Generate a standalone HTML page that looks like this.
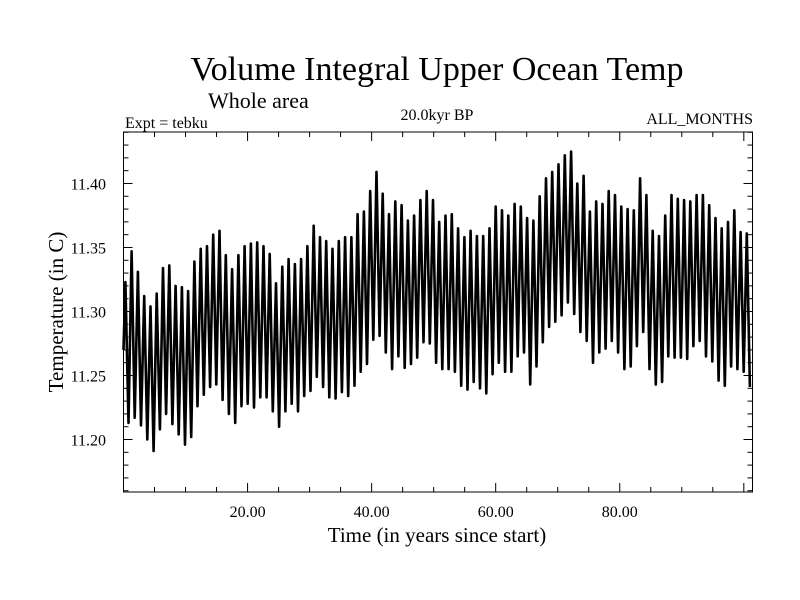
<!DOCTYPE html>
<html><head><meta charset="utf-8"><style>
html,body{margin:0;padding:0;background:#fff;}
svg{display:block;font-family:"Liberation Serif",serif;}
</style></head><body>
<svg id="chart" width="800" height="600" viewBox="0 0 800 600">
<rect width="800" height="600" fill="#fff"/>
<text x="437" y="80" font-size="34" text-anchor="middle">Volume Integral Upper Ocean Temp</text>
<text x="208" y="108" font-size="22">Whole area</text>
<text x="125" y="128" font-size="16">Expt = tebku</text>
<text x="437" y="120" font-size="16" text-anchor="middle">20.0kyr BP</text>
<text x="753" y="124" font-size="16" text-anchor="end">ALL_MONTHS</text>
<text x="437" y="542" font-size="21" text-anchor="middle">Time (in years since start)</text>
<text transform="translate(63,312) rotate(-90)" font-size="21" text-anchor="middle">Temperature (in C)</text>
<g id="axes"></g>
<path id="series" fill="none" stroke="#000" stroke-width="2.6" stroke-linejoin="round"/>
<rect x="123.5" y="132" width="629" height="360" fill="none" stroke="#000" stroke-width="1"/>
</svg>
<script>
const peaks = [11.323,11.347,11.331,11.312,11.304,11.314,11.334,11.336,11.320,11.319,11.316,11.339,11.349,11.351,11.360,11.363,11.344,11.333,11.344,11.351,11.353,11.354,11.351,11.345,11.322,11.335,11.341,
11.337,11.341,11.351,11.367,11.358,11.355,11.349,11.355,11.358,11.358,11.376,11.378,11.394,11.409,11.392,11.376,11.386,11.383,11.371,11.375,11.387,11.394,11.387,11.370,11.375,
11.376,11.365,11.358,11.363,11.359,11.359,11.365,11.382,11.379,11.375,11.384,11.382,11.373,11.371,11.390,11.404,11.409,11.415,11.422,11.425,11.400,11.406,11.378,11.386,11.384,11.394,
11.391,11.382,11.380,11.379,11.404,11.391,11.363,11.359,11.375,11.391,11.388,11.387,11.386,11.391,11.391,11.383,11.373,11.365,11.370,11.379,11.362,11.361];
const troughs = [11.213,11.217,11.211,11.200,11.191,11.208,11.220,11.212,11.204,11.196,11.202,11.226,11.235,11.241,11.243,11.231,11.220,11.213,11.226,11.228,11.225,11.233,11.233,11.222,11.210,11.222,
11.228,11.222,11.234,11.238,11.249,11.241,11.233,11.232,11.237,11.234,11.242,11.253,11.259,11.278,11.281,11.268,11.255,11.265,11.256,11.259,11.264,11.276,11.275,11.260,11.255,11.255,
11.253,11.242,11.239,11.245,11.240,11.236,11.251,11.260,11.253,11.253,11.265,11.268,11.243,11.257,11.276,11.288,11.292,11.297,11.307,11.298,11.284,11.277,11.260,11.268,11.271,
11.277,11.268,11.255,11.257,11.273,11.284,11.255,11.243,11.245,11.265,11.264,11.264,11.263,11.273,11.277,11.265,11.261,11.246,11.242,11.257,11.255,11.253,11.241];
const xTicks = [20,40,60,80];
const xTickLabels = ["20.00","40.00","60.00","80.00"];
const yTicks = [11.20,11.25,11.30,11.35,11.40];
const yTickLabels = ["11.20","11.25","11.30","11.35","11.40"];

const X0=123.5, X1=752.5, Y0=132, Y1=492;
const xMin=0, xMax=101.4, yMin=11.159, yMax=11.4402;
const xs = v => X0 + (v-xMin)/(xMax-xMin)*(X1-X0);
const ys = v => Y1 - (v-yMin)/(yMax-yMin)*(Y1-Y0);
const NS="http://www.w3.org/2000/svg";
const axes=document.getElementById('axes');
function line(x1,y1,x2,y2,name){const l=document.createElementNS(NS,'line');
l.setAttribute('x1',x1);l.setAttribute('y1',y1);l.setAttribute('x2',x2);l.setAttribute('y2',y2);
l.setAttribute('stroke','#000');l.setAttribute('stroke-width','1');


axes.appendChild(l);}
function txt(x,y,s,anchor,name){const t=document.createElementNS(NS,'text');
t.setAttribute('x',x);t.setAttribute('y',y);t.setAttribute('font-size','16');t.setAttribute('text-anchor',anchor);t.textContent=s;


axes.appendChild(t);}
// x minor ticks every 5 years
for(let v=5; v<xMax; v+=5){const x=xs(v);const major=v%20===0;const L=major?9:5;
line(x,Y1,x,Y1-L,'x-tick');line(x,Y0,x,Y0+L,'x-tick-top');}
xTicks.forEach((v,i)=>txt(xs(v),517,xTickLabels[i],'middle','x-tick-label'));
// y minor ticks every 0.01
for(let k=Math.ceil(yMin*100); k<=Math.floor(yMax*100); k++){const v=k/100;const y=ys(v);const major=k%5===0;const L=major?9:5;
line(X0,y,X0+L,y,'y-tick');line(X1,y,X1-L,y,'y-tick-right');}
yTicks.forEach((v,i)=>txt(106,ys(v)+6,yTickLabels[i],'end','y-tick-label'));
// series: alternating peak/trough each year
const period=1.012;
let d='M'+xs(0).toFixed(1)+' '+ys(11.27).toFixed(1);
for(let i=0;i<peaks.length;i++){
  d+=' L'+xs(0.3+i*period).toFixed(1)+' '+ys(peaks[i]).toFixed(1);
  if(i<troughs.length) d+=' L'+xs(0.8+i*period).toFixed(1)+' '+ys(troughs[i]).toFixed(1);
}
document.getElementById('series').setAttribute('d',d);
</script>
</body></html>
